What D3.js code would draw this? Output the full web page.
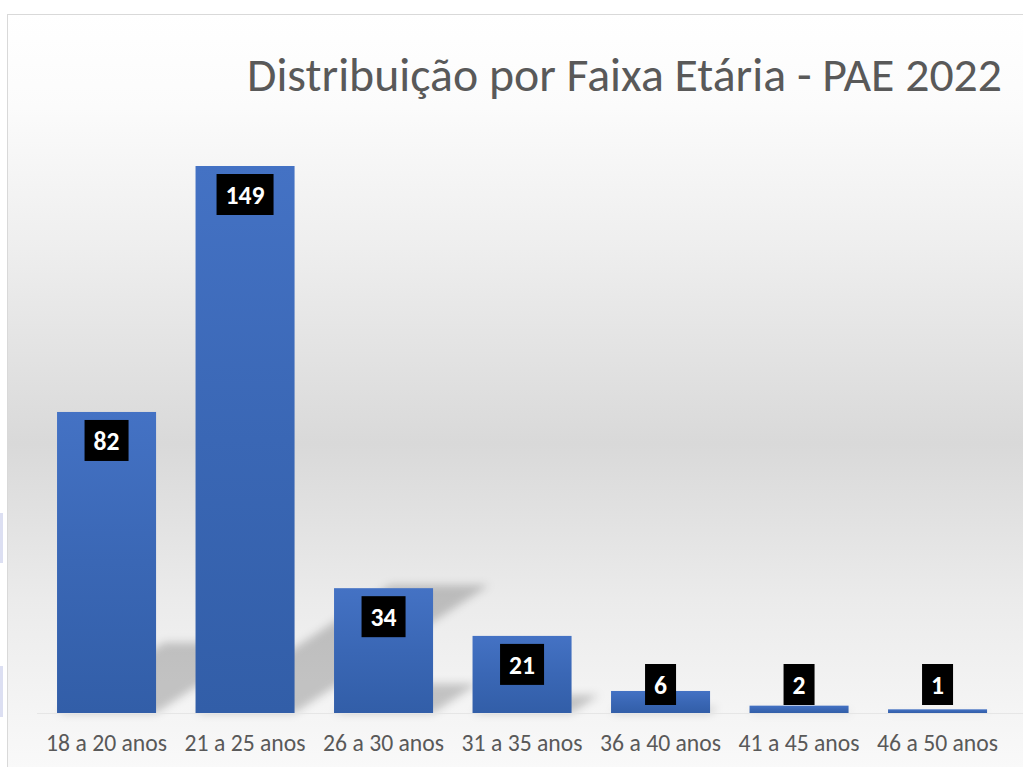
<!DOCTYPE html>
<html><head><meta charset="utf-8">
<script src="https://cdn.jsdelivr.net/npm/d3@7"></script>
<style>html,body{margin:0;padding:0;background:#fff;overflow:hidden}</style>
</head><body>
<svg id="c" width="1023" height="767"></svg>
<script>
const categories = ["18 a 20 anos","21 a 25 anos","26 a 30 anos","31 a 35 anos","36 a 40 anos","41 a 45 anos","46 a 50 anos"];
const values = [82,149,34,21,6,2,1];
const title = "Distribuição por Faixa Etária - PAE 2022";

const W = 1023, H = 767;
const svg = d3.select("#c");
const defs = svg.append("defs");
const FONT = "Carlito, Lato, 'Open Sans', sans-serif";

// background gradient
const bg = defs.append("linearGradient").attr("id","bg").attr("x1",0).attr("y1",0).attr("x2",0).attr("y2",1);
[[0,"#ffffff"],[0.12,"#fbfbfb"],[0.3,"#eeeeee"],[0.55,"#d9d9d9"],[0.75,"#ebebeb"],[0.9,"#f5f5f5"],[1,"#fbfbfb"]]
  .forEach(s=>bg.append("stop").attr("offset",s[0]).attr("stop-color",s[1]));
const barG = defs.append("linearGradient").attr("id","barg").attr("x1",0).attr("y1",0).attr("x2",0).attr("y2",1);
[[0,"#4472c4"],[0.5,"#3a67b5"],[1,"#325ea8"]].forEach(s=>barG.append("stop").attr("offset",s[0]).attr("stop-color",s[1]));
const blur = defs.append("filter").attr("id","blur").attr("filterUnits","userSpaceOnUse")
  .attr("x",0).attr("y",0).attr("width",W).attr("height",H);
blur.append("feGaussianBlur").attr("stdDeviation",4.5);

// left artifacts
svg.append("rect").attr("x",0).attr("y",513).attr("width",3).attr("height",50).attr("fill","#dcdff2");
svg.append("rect").attr("x",0).attr("y",666).attr("width",3).attr("height",51).attr("fill","#dcdff2");

// chart area
svg.append("rect").attr("x",7.5).attr("y",14.5).attr("width",1040).attr("height",780)
  .attr("fill","url(#bg)").attr("stroke","#d9d9d9").attr("stroke-width",1);

const baseline = 713;
const x = d3.scaleBand().domain(categories).range([37.3,1006.8]).paddingInner(0.285).paddingOuter(0.1425);
const y = d3.scaleLinear().domain([0,160]).range([baseline, baseline - 160*547/149]);

// shadows (perspective, blurred in screen space)
const s = 0.234, k = 1.52;
const shOuter = svg.append("g").attr("filter","url(#blur)");
const sh = shOuter.append("g").attr("transform",`translate(0,${baseline}) matrix(1,0,${-k*s},${s},0,0)`);
sh.selectAll("rect").data(values).join("rect")
  .attr("x",(d,i)=>x(categories[i]))
  .attr("y",d=>y(d)-baseline)
  .attr("width",x.bandwidth())
  .attr("height",d=>baseline-y(d))
  .attr("fill","#000").attr("fill-opacity",0.2);

// axis line
svg.append("line").attr("x1",37).attr("x2",1023).attr("y1",baseline+0.5).attr("y2",baseline+0.5)
  .attr("stroke","#e6e6e6").attr("stroke-width",1);

// bars
svg.append("g").selectAll("rect").data(values).join("rect")
  .attr("x",(d,i)=>x(categories[i]))
  .attr("y",d=>y(d))
  .attr("width",x.bandwidth())
  .attr("height",d=>baseline-y(d))
  .attr("fill","url(#barg)");

// axis labels
const xAxis = d3.axisBottom(x).tickSize(0).tickPadding(0);
const ax = svg.append("g").attr("transform",`translate(0,${baseline})`).call(xAxis);
ax.select(".domain").remove();
ax.selectAll("text").attr("font-family",FONT).attr("fill","#595959").attr("dy",null).attr("y",38)
  .attr("font-size",20);
ax.selectAll("text").each(function(){
  const w = this.getComputedTextLength();
  d3.select(this).attr("font-size",20*121/w);
});

// data labels
const lg = svg.append("g");
values.forEach((v,i)=>{
  const g = lg.append("g");
  const t = g.append("text").text(v).attr("font-family",FONT).attr("font-weight","bold")
    .attr("font-size",22).attr("fill","#fff").attr("text-anchor","middle");
  const tw = t.node().getComputedTextLength();
  t.attr("font-size",22*(13*String(v).length)/tw);
  const bw = 13*String(v).length + 18;
  const bh = 41;
  const cx = x(categories[i]) + x.bandwidth()/2;
  const top = Math.min(y(v)+8, 664);
  g.insert("rect","text").attr("x",cx-bw/2).attr("y",top).attr("width",bw).attr("height",bh).attr("fill","#000");
  t.attr("x",cx).attr("y",top+bh/2+1).attr("dominant-baseline","central");
});

// title
const tt = svg.append("text").text(title).attr("x",1002).attr("y",91).attr("text-anchor","end")
  .attr("font-family",FONT).attr("font-size",44).attr("fill","#595959");
const tw = tt.node().getComputedTextLength();
tt.attr("font-size",44*755/tw);
</script>
</body></html>
